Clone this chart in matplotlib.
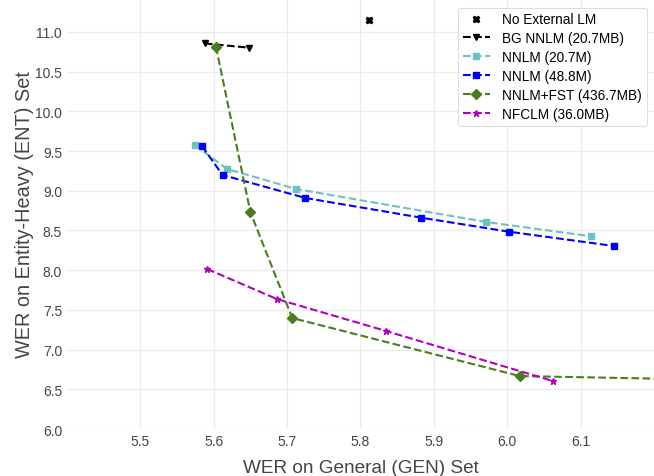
import matplotlib
matplotlib.use('Agg')
import matplotlib.pyplot as plt

plt.rcParams['font.family'] = ['Liberation Sans', 'DejaVu Sans']

# Data
no_ext_x = [5.812]
no_ext_y = [11.155]

bg_x = [5.588, 5.648]
bg_y = [10.855, 10.802]

nnlm20_x = [5.574, 5.618, 5.712, 5.971, 6.114]
nnlm20_y = [9.577, 9.275, 9.023, 8.607, 8.427]

nnlm48_x = [5.584, 5.612, 5.725, 5.883, 6.002, 6.145]
nnlm48_y = [9.564, 9.199, 8.909, 8.661, 8.485, 8.305]

fst_x = [5.603, 5.650, 5.707, 6.017, 6.40]
fst_y = [10.815, 8.729, 7.398, 6.667, 6.60]

nfclm_x = [5.591, 5.686, 5.835, 6.062]
nfclm_y = [8.015, 7.637, 7.234, 6.605]

labels = ['No External LM', 'BG NNLM (20.7MB)', 'NNLM (20.7M)',
          'NNLM (48.8M)', 'NNLM+FST (436.7MB)', 'NFCLM (36.0MB)']

fig = plt.figure(figsize=(6.54, 4.77), dpi=100)
ax = fig.add_axes([0.1024, 0.0985, 0.8976, 0.9015])

ax.plot(no_ext_x, no_ext_y, linestyle='none', marker='X', color='black',
        markersize=5, label=labels[0])
ax.plot(bg_x, bg_y, '--', marker='v', color='black', markersize=5, lw=1.5,
        label=labels[1])
ax.plot(nnlm20_x, nnlm20_y, '--', marker='s', color='#6cc2c2', markersize=5,
        lw=1.5, label=labels[2])
ax.plot(nnlm48_x, nnlm48_y, '--', marker='s', color='#0000ff', markersize=5,
        lw=1.5, label=labels[3])
ax.plot(fst_x, fst_y, '--', marker='D', color='#4b7d1f', markersize=5,
        lw=1.5, label=labels[4])
ax.plot(nfclm_x, nfclm_y, '--', marker='*', color='#b000c0', markersize=5,
        lw=1.5, label=labels[5])

ax.set_xlim(5.4, 6.2)
ax.set_ylim(6.0, 11.415)
ax.set_xticks([5.5, 5.6, 5.7, 5.8, 5.9, 6.0, 6.1])
ax.set_yticks([6.0, 6.5, 7.0, 7.5, 8.0, 8.5, 9.0, 9.5, 10.0, 10.5, 11.0])
ax.set_xticklabels(['%.1f' % v for v in ax.get_xticks()])
ax.set_yticklabels(['%.1f' % v for v in ax.get_yticks()])

ax.grid(True, color='#ebebeb', lw=0.9)
ax.set_axisbelow(True)
for s in ax.spines.values():
    s.set_visible(False)
ax.tick_params(length=0, labelsize=10, colors='#444444', pad=3.5)

ax.set_xlabel('WER on General (GEN) Set', fontsize=13.7, color='#444444', labelpad=8)
ax.set_ylabel('WER on Entity-Heavy (ENT) Set', fontsize=14.3, color='#444444', labelpad=1)

leg = ax.legend(loc='upper right', fontsize=9.8, handlelength=2.0,
                borderpad=0.35, labelspacing=0.36, handletextpad=0.9,
                framealpha=1, edgecolor='#dddddd', bbox_to_anchor=(0.999, 0.996))
leg.get_frame().set_linewidth(0.8)

fig.savefig('out.png', dpi=100)
